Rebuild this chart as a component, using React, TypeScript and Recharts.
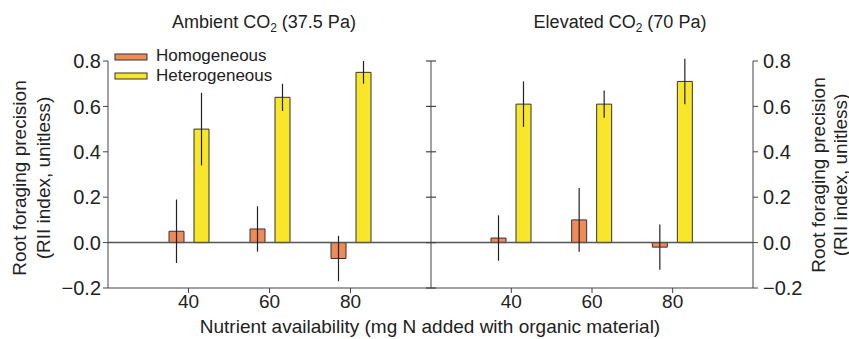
import React from 'react';
import { BarChart, Bar, XAxis, YAxis, ReferenceLine, ErrorBar } from 'recharts';

// N added (mg) with organic material
const nitrogen = ['40', '60', '80'];

// ambient CO2 (37.5 Pa)
const ambientHom = [0.05, 0.06, -0.07];
const ambientHomErr = [0.14, 0.1, 0.1];
const ambientHet = [0.5, 0.64, 0.75];
const ambientHetErr = [0.16, 0.06, 0.05];

// elevated CO2 (70 Pa)
const elevatedHom = [0.02, 0.1, -0.02];
const elevatedHomErr = [0.1, 0.14, 0.1];
const elevatedHet = [0.61, 0.61, 0.71];
const elevatedHetErr = [0.1, 0.06, 0.1];

const yTicks = [-0.2, 0, 0.2, 0.4, 0.6, 0.8];
const seriesNames = ['Homogeneous', 'Heterogeneous'];

const ORANGE = '#EF8B56';
const YELLOW = '#F9E62B';
const INK = '#222';
const AXIS = '#444';
const FONT = '"Liberation Sans", Arial, Helvetica, sans-serif';

const build = (hom: number[], homErr: number[], het: number[], hetErr: number[]) =>
  nitrogen.map((n, i) => ({ n, hom: hom[i], homErr: homErr[i], het: het[i], hetErr: hetErr[i] }));

const ambient = build(ambientHom, ambientHomErr, ambientHet, ambientHetErr);
const elevated = build(elevatedHom, elevatedHomErr, elevatedHet, elevatedHetErr);

const fmt = (v: number) => (v < 0 ? '\u2212' + Math.abs(v).toFixed(1) : v.toFixed(1));

// ticks that cross the shared middle axis
const CrossTick = (props: any) => {
  const { x, y } = props;
  return <line x1={x - 5} x2={x + 5} y1={y} y2={y} stroke={AXIS} strokeWidth={1.2} />;
};

const bars = (yAxisId: string) => [
  <Bar key="hom" yAxisId={yAxisId} dataKey="hom" fill={ORANGE} stroke="#333" strokeWidth={1} isAnimationActive={false}>
    <ErrorBar dataKey="homErr" width={0} stroke={INK} strokeWidth={1.2} />
  </Bar>,
  <Bar key="het" yAxisId={yAxisId} dataKey="het" fill={YELLOW} stroke="#333" strokeWidth={1} isAnimationActive={false}>
    <ErrorBar dataKey="hetErr" width={0} stroke={INK} strokeWidth={1.2} />
  </Bar>,
];

const xAxis = (
  <XAxis
    dataKey="n"
    padding={{ left: 40, right: 40 }}
    height={30}
    tickSize={5}
    tickMargin={2}
    stroke={AXIS}
    tick={{ fontSize: 19, fill: INK }}
  />
);

export default function App() {
  return (
    <div style={{ position: 'absolute', left: 0, top: 0, width: 849, height: 339, fontFamily: FONT, background: '#fff' }}>
      <div style={{ position: 'absolute', left: 0, top: 0 }}>
        <BarChart width={849} height={339} data={ambient} margin={{ top: 61, right: 418, bottom: 21, left: 48 }} barSize={15} barGap={10}>
          {xAxis}
          <YAxis
            yAxisId="a"
            domain={[-0.2, 0.8]}
            ticks={yTicks}
            allowDataOverflow
            width={60}
            tickSize={5}
            tickMargin={2}
            tickFormatter={fmt}
            stroke={AXIS}
            tick={{ fontSize: 20, fill: INK }}
          />
          <ReferenceLine yAxisId="a" y={0} stroke="#555" strokeWidth={1.5} />
          {bars('a')}
        </BarChart>
      </div>
      <div style={{ position: 'absolute', left: 0, top: 0 }}>
        <BarChart width={849} height={339} data={elevated} margin={{ top: 61, right: 36, bottom: 21, left: 421 }} barSize={15} barGap={10}>
          {xAxis}
          <YAxis
            yAxisId="l"
            domain={[-0.2, 0.8]}
            ticks={yTicks}
            allowDataOverflow
            width={10}
            tickSize={0}
            tickMargin={0}
            tickLine={false}
            stroke={AXIS}
            tick={CrossTick}
          />
          <YAxis
            yAxisId="r"
            orientation="right"
            domain={[-0.2, 0.8]}
            ticks={yTicks}
            allowDataOverflow
            width={60}
            tickSize={5}
            tickMargin={5}
            tickFormatter={fmt}
            stroke={AXIS}
            tick={{ fontSize: 20, fill: INK }}
          />
          <ReferenceLine yAxisId="r" y={0} stroke="#555" strokeWidth={1.5} />
          {bars('r')}
        </BarChart>
      </div>
      <svg width={849} height={339} style={{ position: 'absolute', left: 0, top: 0, pointerEvents: 'none' }} fontFamily={FONT} fill={INK}>
        <text x={264} y={28} fontSize={18} textAnchor="middle">
          Ambient CO<tspan fontSize={12} dy={4}>2</tspan>
          <tspan dy={-4}> (37.5 Pa)</tspan>
        </text>
        <text x={620} y={28} fontSize={18} textAnchor="middle">
          Elevated CO<tspan fontSize={12} dy={4}>2</tspan>
          <tspan dy={-4}> (70 Pa)</tspan>
        </text>

        <rect x={115} y={54} width={32} height={6} fill={ORANGE} stroke="#333" />
        <text x={156} y={61} fontSize={17}>{seriesNames[0]}</text>
        <rect x={115} y={73} width={32} height={6} fill={YELLOW} stroke="#333" />
        <text x={156} y={80.5} fontSize={17}>{seriesNames[1]}</text>

        <g transform="translate(19,178) rotate(-90)">
          <text x={0} y={0} fontSize={19} textAnchor="middle" dominantBaseline="central">Root foraging precision</text>
          <text x={0} y={24} fontSize={19} textAnchor="middle" dominantBaseline="central">(RII index, unitless)</text>
        </g>
        <g transform="translate(818,175) rotate(-90)">
          <text x={0} y={0} fontSize={19} textAnchor="middle" dominantBaseline="central">Root foraging precision</text>
          <text x={0} y={22} fontSize={19} textAnchor="middle" dominantBaseline="central">(RII index, unitless)</text>
        </g>

        <text x={430} y={333} fontSize={19} textAnchor="middle">Nutrient availability (mg N added with organic material)</text>
      </svg>
    </div>
  );
}
